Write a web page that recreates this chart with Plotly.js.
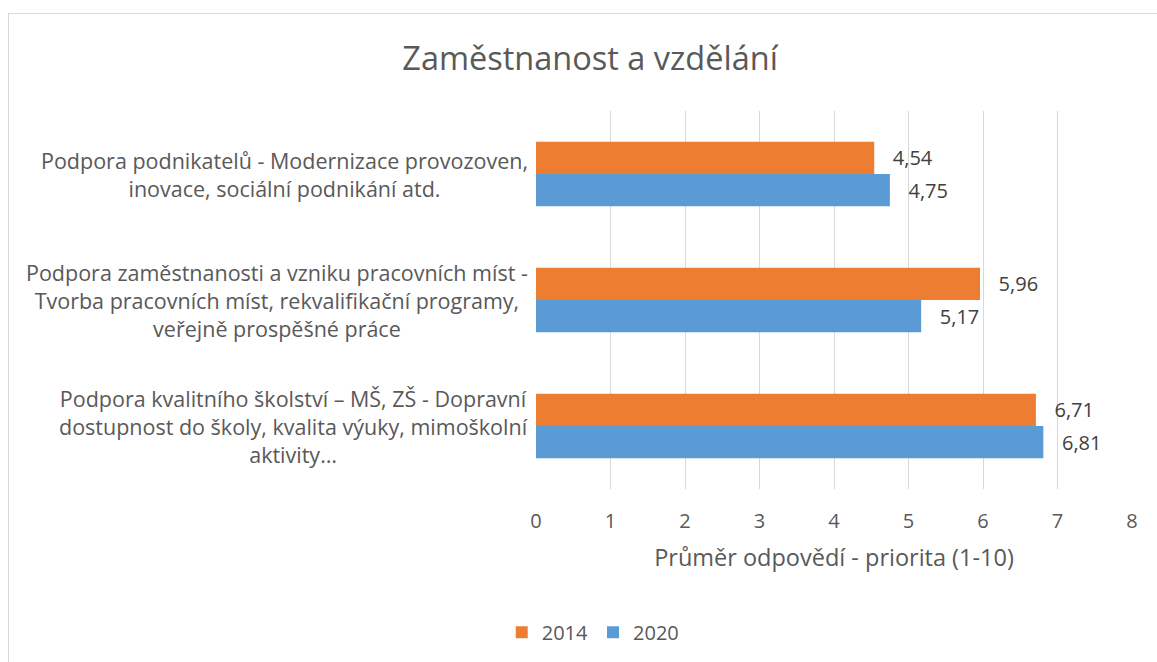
<!DOCTYPE html>
<html><head><meta charset="utf-8">
<script src="https://cdn.plot.ly/plotly-3.0.1.min.js"></script>
<style>
html,body{margin:0;padding:0;background:#fff;overflow:hidden;}
#chart{position:absolute;left:0;top:0;width:1157px;height:662px;}
#frame{position:absolute;left:8px;top:13px;width:1160px;height:660px;border:1px solid #d9d9d9;pointer-events:none;}
</style></head>
<body>
<div id="chart"></div>
<div id="frame"></div>
<script>
const categories = [
  "Podpora podnikatelů - Modernizace provozoven,<br>inovace, sociální podnikání atd.",
  "Podpora zaměstnanosti a vzniku pracovních míst -<br>Tvorba pracovních míst, rekvalifikační programy,<br>veřejně prospěšné práce",
  "Podpora kvalitního školství – MŠ, ZŠ - Dopravní<br>dostupnost do školy, kvalita výuky, mimoškolní<br>aktivity…"
];
const values2014 = [4.54, 5.96, 6.71];
const values2020 = [4.75, 5.17, 6.81];
const seriesNames = ["2014", "2020"];
const xTicks = [0, 1, 2, 3, 4, 5, 6, 7, 8];

const FONT = "'Open Sans', sans-serif";
const GREY = "#595959";
const pad = "\u00a0\u00a0\u00a0";

const traces = [
  {type:"bar", orientation:"h", name:seriesNames[0], y:categories, x:values2014,
   marker:{color:"#ED7D31"}, textposition:"outside", texttemplate:pad+"%{x:.2f}",
   textfont:{family:FONT,size:20,color:"#404040"}, cliponaxis:false},
  {type:"bar", orientation:"h", name:seriesNames[1], y:categories, x:values2020,
   marker:{color:"#5B9BD5"}, textposition:"outside", texttemplate:pad+"%{x:.2f}",
   textfont:{family:FONT,size:20,color:"#404040"}, cliponaxis:false}
];

const annotations = categories.map(c => ({
  xref:"paper", yref:"y", x:0, y:c, xanchor:"right", yanchor:"middle", xshift:-6,
  text:c, align:"center", showarrow:false, font:{family:FONT,size:21.5,color:GREY}
}));

const layout = {
  width:1157, height:662,
  margin:{l:536, r:25, t:111, b:172},
  paper_bgcolor:"rgba(0,0,0,0)", plot_bgcolor:"#fff",
  separators:", ",
  font:{family:FONT, color:GREY},
  title:{text:"Zaměstnanost a vzdělání", font:{family:FONT,size:32.5,color:GREY}, x:0.51, xanchor:"center", y:0.912, yanchor:"middle"},
  barmode:"group", bargap:0.49, bargroupgap:0,
  xaxis:{range:[0,8], tickvals:xTicks, ticktext:xTicks.map(String), showgrid:true, gridcolor:"#d9d9d9", gridwidth:1,
         zeroline:false, showline:false, ticks:"", tickfont:{family:FONT,size:20,color:GREY}, ticklabelstandoff:18,
         title:{text:"Průměr odpovědí - priorita (1-10)", font:{family:FONT,size:23.5,color:GREY}, standoff:16}, fixedrange:true, automargin:false},
  yaxis:{autorange:"reversed", showticklabels:false, showgrid:false, zeroline:false, ticks:"", fixedrange:true},
  legend:{orientation:"h", x:0.096, xanchor:"center", y:-0.375, yanchor:"middle", font:{family:FONT,size:20,color:GREY},
          traceorder:"normal", itemwidth:30},
  annotations:annotations,
  showlegend:true
};

Plotly.newPlot("chart", traces, layout, {displayModeBar:false, staticPlot:true});
</script>
</body></html>
